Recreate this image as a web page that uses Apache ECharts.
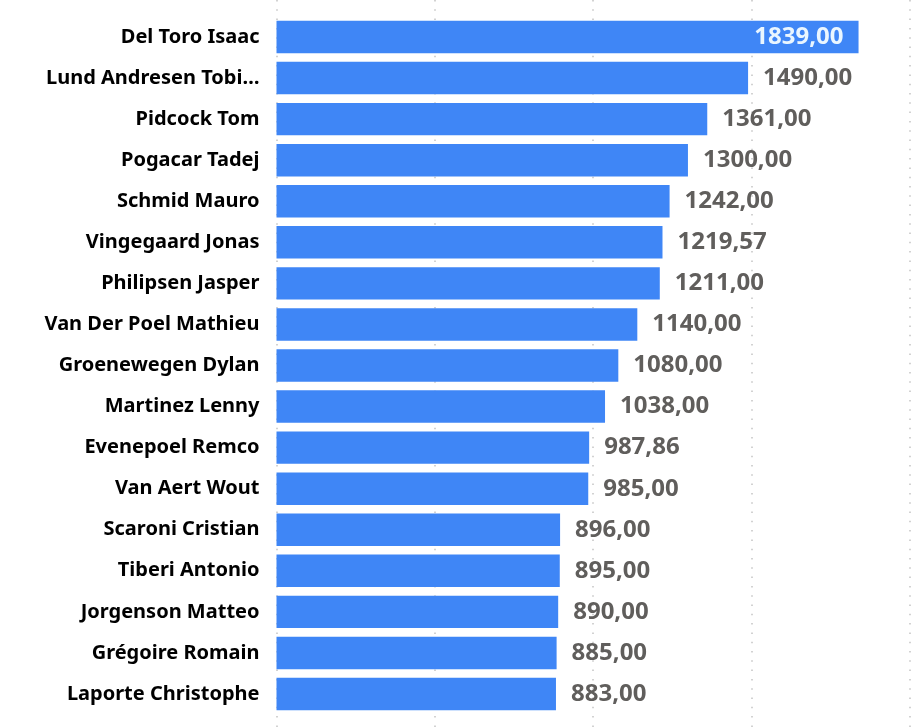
<!DOCTYPE html>
<html>
<head>
<meta charset="utf-8">
<style>
  html, body { margin: 0; padding: 0; background: #fff; }
  #main { width: 919px; height: 727px; }
</style>
<script src="https://cdn.jsdelivr.net/npm/echarts@6/dist/echarts.min.js"></script>
</head>
<body>
<div id="main"></div>
<script>
var riders = ['Del Toro Isaac', 'Lund Andresen Tobi…', 'Pidcock Tom', 'Pogacar Tadej', 'Schmid Mauro',
  'Vingegaard Jonas', 'Philipsen Jasper', 'Van Der Poel Mathieu', 'Groenewegen Dylan', 'Martinez Lenny',
  'Evenepoel Remco', 'Van Aert Wout', 'Scaroni Cristian', 'Tiberi Antonio', 'Jorgenson Matteo',
  'Grégoire Romain', 'Laporte Christophe'];
var points = [1839, 1490, 1361, 1300, 1242, 1219.57, 1211, 1140, 1080, 1038, 987.86, 985, 896, 895, 890, 885, 883];

var FONT = '"Noto Sans", "Open Sans", sans-serif';

function fmt(v) {
  return v.toFixed(2).replace('.', ',');
}

var myChart = echarts.init(document.getElementById('main'));

var barData = points.map(function (v, i) {
  // the longest bar has no room outside, its label sits inside
  if (i === 0) {
    return {
      value: v,
      label: { position: 'insideRight', distance: 15, color: '#eaf6ff' }
    };
  }
  return v;
});

var option = {
  backgroundColor: '#fff',
  animation: false,
  grid: [
    { left: 276.5, top: 16.5, width: 633, height: 698 },
    { left: 276.5, top: 0, width: 633, height: 727 }   // full height, dotted lines only
  ],
  xAxis: [
    { type: 'value', gridIndex: 0, min: 0, max: 2000, interval: 500, show: false },
    {
      type: 'value', gridIndex: 1, min: 0, max: 2000, interval: 500,
      axisLine: { show: false },
      axisTick: { show: false },
      axisLabel: { show: false },
      splitLine: { show: true, lineStyle: { color: '#c4c4c4', width: 1.5, type: [1.5, 7.8] } }
    }
  ],
  yAxis: [
    {
      type: 'category', gridIndex: 0, data: riders, inverse: true,
      axisLine: { show: false },
      axisTick: { show: false },
      axisLabel: {
        margin: 17, color: '#000', fontFamily: FONT, fontWeight: 'bold', fontSize: 20,
        width: 270, overflow: 'none'
      }
    },
    { type: 'value', gridIndex: 1, min: 0, max: 1, show: false }
  ],
  series: [{
    type: 'bar',
    xAxisIndex: 0,
    yAxisIndex: 0,
    data: barData,
    barCategoryGap: '21%',
    itemStyle: { color: '#3f86f6' },
    z: 3,
    label: {
      show: true,
      position: 'right',
      distance: 15,
      color: '#605e5c',
      fontFamily: FONT,
      fontWeight: 'bold',
      fontSize: 24,
      formatter: function (p) { return fmt(p.value); }
    }
  }]
};

myChart.setOption(option);
</script>
</body>
</html>
